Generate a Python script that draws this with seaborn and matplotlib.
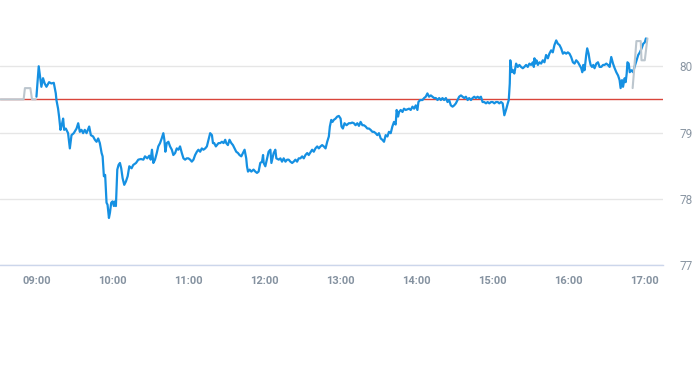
import numpy as np
import pandas as pd
import matplotlib
matplotlib.use("Agg")
import matplotlib.pyplot as plt
import matplotlib.dates as mdates
import seaborn as sns

# minutes after 09:00 and last price
minutes = [
    -0.2, 1.6, 3.7, 5.0, 6.3, 7.7, 9.8, 11.6, 13.5, 15.1, 15.6, 16.9, 17.7, 18.8, 19.8,
    20.9, 21.7, 23.0, 24.8, 26.2, 27.5, 29.3, 31.5, 32.8, 34.1, 35.4, 36.7, 38.0, 39.4,
    41.5, 42.8, 44.6, 46.0, 47.3, 48.6, 49.9, 51.3, 52.1, 53.1, 54.1, 55.2, 56.0, 57.1,
    57.9, 58.9, 60.0, 61.0, 61.8, 62.6, 63.7, 64.7, 65.8, 66.8, 67.9, 69.2, 70.5, 71.9,
    73.2, 75.0, 76.3, 78.5, 80.3, 82.4, 84.3, 85.6, 87.4, 89.0, 90.1, 91.1, 92.2, 93.5,
    94.9, 96.1, 97.5, 98.8, 100.1, 100.9, 101.7, 102.8, 104.1, 105.4, 106.8, 108.0,
    109.4, 110.7, 112.0, 113.3, 114.7, 116.0, 117.3, 118.6, 119.9, 121.3, 122.6, 123.9,
    125.2, 126.6, 127.8, 129.2, 130.5, 131.8, 133.2, 134.5, 135.8, 137.1, 138.5, 139.3,
    140.3, 141.6, 142.4, 143.7, 145.0, 146.4, 147.7, 149.0, 149.8, 151.1, 152.4, 153.8,
    155.1, 156.4, 157.7, 159.1, 160.3, 161.7, 163.0, 164.3, 165.6, 166.2, 167.0, 168.3,
    169.6, 171.4, 172.8, 174.1, 175.4, 176.7, 178.1, 178.9, 179.4, 180.7, 182.1, 183.3,
    184.7, 185.5, 186.3, 187.3, 188.6, 189.4, 191.3, 192.6, 193.9, 195.2, 196.6, 197.9,
    199.2, 200.5, 201.9, 203.1, 204.5, 205.8, 207.1, 208.4, 209.8, 211.1, 212.4, 213.8,
    215.0, 216.4, 217.7, 219.0, 220.3, 221.7, 223.0, 224.3, 225.6, 226.9, 228.3, 229.6,
    230.9, 231.7, 232.8, 233.8, 234.8, 236.2, 237.5, 238.8, 240.2, 240.9, 242.0, 243.3,
    244.9, 246.7, 248.1, 249.4, 250.7, 252.0, 253.4, 254.7, 256.0, 257.4, 258.6, 260.0,
    261.3, 262.6, 263.9, 265.3, 266.5, 267.9, 269.2, 270.5, 271.9, 273.2, 274.5, 275.8,
    277.2, 278.4, 279.8, 281.1, 282.4, 283.7, 284.5, 285.6, 286.4, 287.7, 289.1, 290.3,
    291.7, 293.0, 294.3, 295.6, 297.0, 298.3, 299.6, 300.9, 301.7, 303.0, 304.9, 306.2,
    307.5, 308.8, 310.1, 311.5, 312.8, 314.1, 315.5, 316.8, 318.1, 319.4, 320.7, 322.0,
    323.4, 324.7, 326.0, 327.3, 328.7, 330.0, 331.3, 332.6, 333.9, 335.3, 336.6, 337.9,
    339.2, 340.6, 341.8, 343.2, 344.5, 345.8, 347.1, 348.5, 349.7, 351.1, 352.4, 353.7,
    355.1, 356.4, 357.7, 359.1, 360.4, 361.7, 363.0, 364.4, 365.6, 367.0, 368.3, 369.6,
    370.4, 371.2, 372.3, 373.1, 373.9, 374.3, 374.9, 375.7, 376.5, 377.5, 378.9, 380.2,
    381.5, 382.8, 384.2, 385.4, 386.8, 388.1, 389.4, 390.7, 392.1, 392.9, 393.4, 394.2,
    395.0, 396.1, 397.3, 398.7, 400.0, 401.3, 402.6, 404.0, 405.2, 406.6, 407.9, 409.2,
    410.6, 411.9, 413.2, 414.5, 415.9, 417.1, 418.5, 419.8, 421.1, 422.4, 423.8, 425.1,
    426.4, 427.8, 429.0, 430.4, 431.2, 432.0, 433.0, 434.3, 435.1, 436.2, 437.0, 437.8,
    438.9, 439.9, 440.9, 442.3, 443.6, 444.9, 446.2, 447.6, 448.8, 450.2, 451.5, 452.8,
    454.1, 455.5, 456.8, 458.1, 459.5, 460.7, 461.5, 462.6, 463.4, 464.7, 465.5, 466.3,
    466.9, 467.9, 468.7, 470.1, 471.4, 472.2, 474.1, 475.4, 476.7, 478.1, 479.4, 480.6,
    481.5,
]
price = [
    79.54, 80.00, 79.69, 79.82, 79.74, 79.69, 79.76, 79.74, 79.75, 79.59, 79.49, 79.36, 79.24, 79.04, 79.11,
    79.21, 79.04, 79.06, 78.99, 78.76, 78.96, 78.99, 79.06, 79.14, 79.01, 79.04, 78.99, 79.04, 78.99,
    79.09, 78.96, 78.94, 78.89, 78.86, 78.91, 78.84, 78.69, 78.64, 78.34, 78.36, 77.94, 77.91, 77.71,
    77.79, 77.94, 77.96, 77.89, 77.96, 77.89, 78.44, 78.51, 78.54, 78.46, 78.31, 78.21, 78.26, 78.34,
    78.49, 78.46, 78.51, 78.54, 78.59, 78.60, 78.59, 78.64, 78.61, 78.65, 78.59, 78.74, 78.54, 78.59,
    78.69, 78.79, 78.84, 78.91, 78.99, 78.89, 78.71, 78.84, 78.86, 78.79, 78.74, 78.66,
    78.69, 78.76, 78.74, 78.79, 78.69, 78.61, 78.59, 78.61, 78.61, 78.59, 78.56, 78.59,
    78.66, 78.71, 78.74, 78.71, 78.76, 78.74, 78.76, 78.79, 78.89, 78.99, 78.96, 78.84,
    78.84, 78.79, 78.81, 78.84, 78.84, 78.86, 78.84, 78.89, 78.84, 78.81, 78.89, 78.84,
    78.81, 78.76, 78.71, 78.69, 78.66, 78.64, 78.69, 78.74, 78.61, 78.49, 78.41, 78.44,
    78.41, 78.44, 78.41, 78.39, 78.41, 78.54, 78.56, 78.66, 78.54, 78.49, 78.61, 78.71,
    78.74, 78.54, 78.61, 78.69, 78.74, 78.61, 78.59, 78.61, 78.56, 78.61, 78.56, 78.59,
    78.59, 78.56, 78.54, 78.56, 78.59, 78.56, 78.61, 78.61, 78.64, 78.61, 78.66, 78.69,
    78.66, 78.70, 78.74, 78.71, 78.76, 78.79, 78.76, 78.79, 78.81, 78.79, 78.76, 78.86,
    78.94, 79.09, 79.19, 79.16, 79.19, 79.21, 79.24, 79.25, 79.21, 79.09, 79.06, 79.14,
    79.11, 79.14, 79.14, 79.15, 79.14, 79.11, 79.14, 79.10, 79.16, 79.11, 79.11, 79.09,
    79.06, 79.06, 79.04, 79.01, 79.01, 78.99, 78.96, 78.99, 78.91, 78.89, 78.86, 78.96,
    78.94, 79.01, 78.99, 79.09, 79.16, 79.12, 79.34, 79.24, 79.31, 79.34, 79.31, 79.36,
    79.34, 79.35, 79.36, 79.34, 79.39, 79.36, 79.41, 79.34, 79.46, 79.49, 79.49, 79.52,
    79.54, 79.59, 79.54, 79.56, 79.54, 79.52, 79.52, 79.49, 79.52, 79.49, 79.52, 79.49,
    79.52, 79.46, 79.49, 79.41, 79.39, 79.41, 79.44, 79.49, 79.54, 79.56, 79.54, 79.52,
    79.54, 79.49, 79.52, 79.49, 79.52, 79.54, 79.52, 79.54, 79.52, 79.54, 79.46, 79.46,
    79.44, 79.46, 79.44, 79.46, 79.46, 79.44, 79.46, 79.46, 79.44, 79.46, 79.44, 79.26,
    79.31, 79.36, 79.44, 79.49, 79.74, 80.09, 79.99, 79.91, 79.94, 79.89, 80.04, 79.99,
    80.02, 79.99, 79.97, 79.99, 80.02, 79.99, 80.04, 80.02, 80.06, 79.99, 80.12, 80.04,
    80.09, 80.02, 80.06, 80.04, 80.09, 80.06, 80.17, 80.12, 80.19, 80.24, 80.21, 80.32,
    80.39, 80.34, 80.32, 80.27, 80.19, 80.21, 80.19, 80.21, 80.19, 80.14, 80.06, 80.04,
    80.09, 80.06, 80.02, 79.97, 79.91, 80.02, 79.94, 80.17, 80.27, 80.19, 80.09, 80.02,
    79.99, 80.02, 79.97, 80.04, 80.06, 79.99, 79.99, 80.02, 80.02, 80.04, 80.02, 79.99,
    80.14, 80.04, 79.97, 79.91, 79.86, 79.79, 79.67, 79.79, 79.69, 79.82, 79.76, 79.89,
    80.06, 80.04, 79.91, 79.94, 79.91, 79.97, 80.09, 80.17, 80.21, 80.27, 80.34, 80.36,
    80.42,
]

# pre-market and after-hours trades (grey)
pre_minutes = [-30.0, -10.3, -9.3, -5.0, -3.7, -0.8]
pre_price = [79.50, 79.50, 79.67, 79.67, 79.50, 79.50]
post_minutes = [471.0, 474.0, 477.4, 478.0, 480.6, 482.7]
post_price = [79.67, 80.38, 80.38, 80.09, 80.09, 80.42]

prev_close = 79.5
y_ticks = [77, 78, 79, 80]

day = pd.Timestamp("2024-01-02 09:00")


def to_frame(mins, vals):
    return pd.DataFrame({"time": day + pd.to_timedelta(mins, unit="m"), "price": vals})


main = to_frame(minutes, price)
pre = to_frame(pre_minutes, pre_price)
post = to_frame(post_minutes, post_price)

sns.set_style("white")
plt.rcParams["font.family"] = ["Roboto", "DejaVu Sans"]

fig = plt.figure(figsize=(6.93, 3.65), dpi=100)
ax = fig.add_axes([0.0, 100 / 365, 663 / 693, 265 / 365])

ax.axhline(prev_close, color="#d9453b", lw=1, zorder=2)
sns.lineplot(data=main, x="time", y="price", ax=ax, color="#1590e2", lw=1.6,
             estimator=None, sort=False, zorder=3)
sns.lineplot(data=pre, x="time", y="price", ax=ax, color="#bcc6ce", lw=1.5,
             estimator=None, sort=False, zorder=4)
sns.lineplot(data=post, x="time", y="price", ax=ax, color="#bcc6ce", lw=1.5,
             estimator=None, sort=False, zorder=4)

ax.set_xlim(day + pd.Timedelta(minutes=-29), day + pd.Timedelta(minutes=495))
ax.set_ylim(77, 81)
ax.set_yticks(y_ticks)
ax.set_yticklabels([str(t) for t in y_ticks])
ax.yaxis.tick_right()
ax.tick_params(axis="y", length=0, pad=12, labelsize=8.5, labelcolor="#8a96a3")
ax.grid(axis="y", color="#e6e6e6", lw=1)
ax.set_axisbelow(True)

ax.xaxis.set_major_locator(mdates.HourLocator())
ax.xaxis.set_major_formatter(mdates.DateFormatter("%H:%M"))
ax.tick_params(axis="x", length=5, width=1, color="#ccd6eb", pad=3,
               labelsize=8, labelcolor="#8592a0")
for lab in ax.get_xticklabels():
    lab.set_fontweight("bold")

for side in ["top", "left", "right"]:
    ax.spines[side].set_visible(False)
ax.spines["bottom"].set_color("#ccd6eb")
ax.spines["bottom"].set_linewidth(1)

ax.set_xlabel("")
ax.set_ylabel("")

fig.savefig("out.png", dpi=100)
